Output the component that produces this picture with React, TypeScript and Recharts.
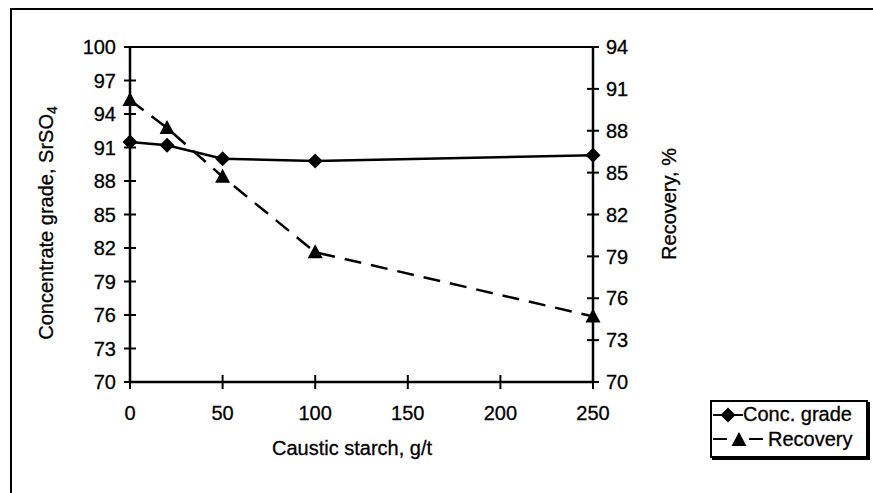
import type { JSX } from 'react';
import { LineChart, Line, XAxis, YAxis, ReferenceLine, Legend } from 'recharts';

const starch = [0, 20, 50, 100, 250];
const concGrade = [91.5, 91.2, 90.0, 89.8, 90.3];
const recovery = [90.2, 88.2, 84.7, 79.3, 74.7];
const starchTicks = [0, 50, 100, 150, 200, 250];
const gradeTicks = [70, 73, 76, 79, 82, 85, 88, 91, 94, 97, 100];
const recoveryTicks = [70, 73, 76, 79, 82, 85, 88, 91, 94];

const data = starch.map((s, i) => ({ starch: s, grade: concGrade[i], recovery: recovery[i] }));

const W = 873;
const H = 493;
const PLOT_L = 130;
const PLOT_R = 593;
const PLOT_T = 47;
const PLOT_B = 382;

const FONT = '"Liberation Sans", Arial, sans-serif';
const txt = { fontFamily: FONT, fontSize: 20, fill: '#000', stroke: '#000', strokeWidth: 0.3 };

const diamond = (cx: number, cy: number) =>
    `M${cx},${cy - 7.5} L${cx + 7.5},${cy} L${cx},${cy + 7.5} L${cx - 7.5},${cy} Z`;
const triangle = (cx: number, cy: number) =>
    `M${cx},${cy - 8} L${cx + 7.5},${cy + 6} L${cx - 7.5},${cy + 6} Z`;

const LeftTick = ({ y, payload }: any): JSX.Element => (
    <g>
        <line x1={PLOT_L - 6} x2={PLOT_L + 6} y1={y} y2={y} stroke="#000" strokeWidth={2} />
        <text x={PLOT_L - 14} y={y} dy="0.36em" textAnchor="end" style={txt}>{payload.value}</text>
    </g>
);

const RightTick = ({ y, payload }: any): JSX.Element => (
    <g>
        <line x1={PLOT_R - 6} x2={PLOT_R + 6} y1={y} y2={y} stroke="#000" strokeWidth={2} />
        <text x={PLOT_R + 13} y={y} dy="0.36em" textAnchor="start" style={txt}>{payload.value}</text>
    </g>
);

const BottomTick = ({ x, payload }: any): JSX.Element => (
    <g>
        <line x1={x} x2={x} y1={PLOT_B - 7} y2={PLOT_B + 7} stroke="#000" strokeWidth={2} />
        <text x={x} y={420} textAnchor="middle" style={txt}>{payload.value}</text>
    </g>
);

const DiamondDot = (props: any): JSX.Element => (
    <path key={`d-${props.index}`} d={diamond(props.cx, props.cy)} fill="#000" />
);

const TriangleDot = (props: any): JSX.Element => (
    <path key={`t-${props.index}`} d={triangle(props.cx, props.cy)} fill="#000" />
);

const LegendBox = (): JSX.Element => (
    <div style={{
        width: 158, height: 58, boxSizing: 'border-box', border: '2px solid #000',
        boxShadow: '2px 2px 0 #000', background: '#fff', paddingLeft: 1,
        fontFamily: FONT, fontSize: 20, color: '#000', WebkitTextStroke: '0.3px #000',
    }}>
        <div style={{ display: 'flex', alignItems: 'center', height: 25 }}>
            <svg width={30} height={20}>
                <line x1={0} x2={30} y1={10} y2={10} stroke="#000" strokeWidth={2} />
                <path d={diamond(15, 10)} fill="#000" />
            </svg>
            <span>Conc. grade</span>
        </div>
        <div style={{ display: 'flex', alignItems: 'center', height: 24 }}>
            <svg width={55} height={20}>
                <line x1={0} x2={14} y1={10} y2={10} stroke="#000" strokeWidth={2} />
                <path d={triangle(26, 11)} fill="#000" />
                <line x1={36} x2={50} y1={10} y2={10} stroke="#000" strokeWidth={2} />
            </svg>
            <span>Recovery</span>
        </div>
    </div>
);

export default function App(): JSX.Element {
    return (
        <div style={{ position: 'absolute', left: 0, top: 0, width: W, height: H, background: '#fff' }}>
            <div style={{
                position: 'absolute', left: 10, top: 8, width: W, height: H,
                borderLeft: '2px solid #000', borderTop: '2px solid #000',
            }} />
            <div style={{ position: 'absolute', left: 0, top: 0 }}>
                <LineChart width={W} height={H} data={data} margin={{ top: PLOT_T, right: 0, bottom: 0, left: 0 }}>
                    <XAxis
                        dataKey="starch" type="number" domain={[0, 250]} ticks={starchTicks}
                        height={H - PLOT_B} axisLine={{ stroke: '#000', strokeWidth: 2.5 }} tickLine={false}
                        tick={BottomTick} interval={0}
                        label={{
                            content: () => (
                                <text x={352} y={455} textAnchor="middle" style={txt}>Caustic starch, g/t</text>
                            ),
                        }}
                    />
                    <YAxis
                        yAxisId="left" orientation="left" domain={[70, 100]} ticks={gradeTicks}
                        width={PLOT_L} axisLine={{ stroke: '#000', strokeWidth: 2.5 }} tickLine={false}
                        tick={LeftTick} interval={0}
                        label={{
                            content: () => (
                                <text transform="translate(53,223) rotate(-90)" textAnchor="middle" style={txt}>
                                    Concentrate grade, SrSO<tspan dy={4} fontSize={14}>4</tspan>
                                </text>
                            ),
                        }}
                    />
                    <YAxis
                        yAxisId="right" orientation="right" domain={[70, 94]} ticks={recoveryTicks}
                        width={W - PLOT_R} axisLine={{ stroke: '#000', strokeWidth: 2.5 }} tickLine={false}
                        tick={RightTick} interval={0}
                        label={{
                            content: () => (
                                <text transform="translate(676,204) rotate(-90)" textAnchor="middle" style={txt}>
                                    Recovery, %
                                </text>
                            ),
                        }}
                    />
                    <ReferenceLine yAxisId="left" y={100} stroke="#000" strokeWidth={2} />
                    <Line
                        yAxisId="left" dataKey="grade" name="Conc. grade" type="linear"
                        stroke="#000" strokeWidth={2.5} dot={DiamondDot} isAnimationActive={false}
                    />
                    <Line
                        yAxisId="right" dataKey="recovery" name="Recovery" type="linear"
                        stroke="#000" strokeWidth={2.5} strokeDasharray="17 10" dot={TriangleDot}
                        isAnimationActive={false}
                    />
                    <Legend
                        layout="vertical" align="center" verticalAlign="middle"
                        wrapperStyle={{ position: 'absolute', left: 710, top: 400, width: 158, height: 58 }}
                        content={() => <LegendBox />}
                    />
                </LineChart>
            </div>
        </div>
    );
}
